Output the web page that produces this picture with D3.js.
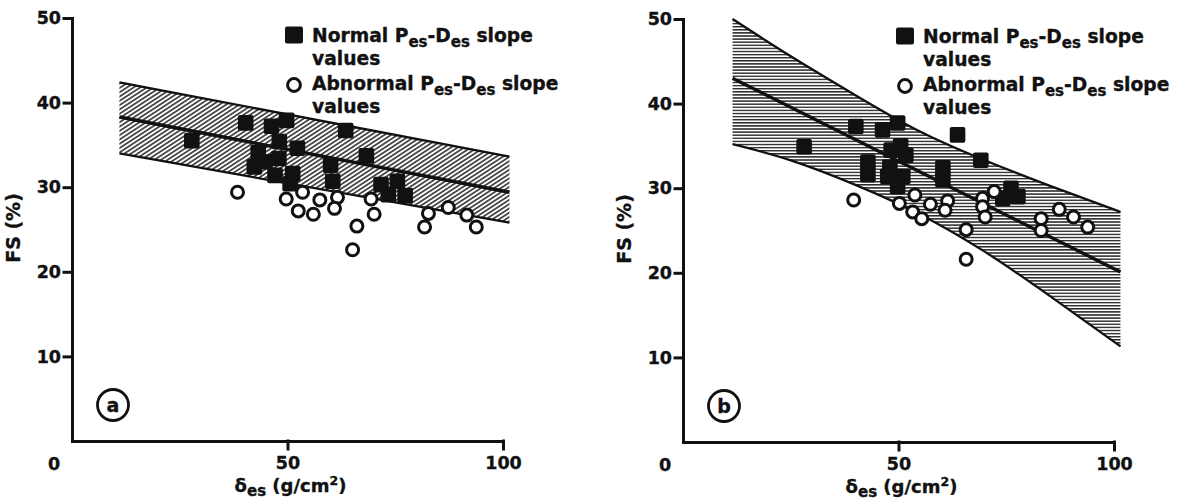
<!DOCTYPE html>
<html>
<head>
<meta charset="utf-8">
<script src="https://cdn.jsdelivr.net/npm/d3@7"></script>
<style>
body { margin: 0; background: #fff; }
svg text { font-family: "DejaVu Sans", sans-serif; font-weight: bold; fill: #111; stroke: #111; stroke-width: 0.35px; }
</style>
</head>
<body>
<svg id="chart" width="1191" height="502"></svg>
<script>
// values (delta_es in g/cm2, FS in %)
var yTicks = [10, 20, 30, 40, 50];
var xTicks = [50, 100];

var normalA = [[27.8,35.5],[40.3,37.6],[46.3,37.2],[49.8,37.9],[63.5,36.7],[48.1,35.4],[52.3,34.6],
  [43.2,34.1],[68.3,33.7],[42.3,32.4],[47.1,31.4],[51.2,31.6],[50.6,30.4],[60.0,32.6],[60.5,30.7],
  [71.7,30.3],[75.5,30.7],[73.4,29.1],[77.3,29.0],[44.8,33.0],[48.0,33.4]];
var abnormalA = [[38.4,29.4],[49.7,28.6],[53.5,29.4],[57.5,28.5],[61.6,28.8],[52.5,27.2],[56.0,26.8],
  [60.9,27.5],[69.4,28.6],[70.1,26.8],[66.1,25.4],[65.1,22.6],[82.7,26.9],[81.8,25.3],[87.3,27.6],
  [91.6,26.7],[93.8,25.3]];

var normalB = [[28.1,34.9],[40.1,37.3],[46.3,36.9],[49.8,37.7],[63.7,36.3],[48.3,34.5],[51.7,33.9],
  [42.9,33.1],[42.9,31.6],[47.5,31.4],[51.0,31.4],[49.8,30.2],[60.3,32.4],[60.3,31.0],[69.1,33.3],
  [76.1,30.0],[77.7,29.0],[74.2,28.8],[48.0,32.5],[50.5,35.0]];
var abnormalB = [[39.6,28.6],[50.2,28.2],[53.8,29.2],[57.4,28.1],[61.4,28.5],[53.3,27.2],[55.4,26.4],
  [60.8,27.4],[69.5,28.8],[72.2,29.6],[69.5,27.8],[70.1,26.6],[65.7,25.1],[65.7,21.6],[83.1,26.4],
  [83.1,25.0],[87.3,27.5],[90.6,26.6],[93.9,25.4]];

// regression line and band edges
var bandXA = [11, 101.5];
var upperA = [42.4, 33.6];
var fitA = [38.3, 29.4];
var lowerA = [34.0, 25.8];

var bandXB = [11.5, 25, 40, 55, 70, 85, 101.5];
var upperB = [50.0, 45.6, 41.0, 36.7, 33.3, 30.3, 27.2];
var lowerB = [35.2, 33.3, 30.4, 26.9, 22.5, 17.3, 11.3];
var fitXB = [11.5, 101.5];
var fitB = [43.0, 20.1];

var svg = d3.select("#chart");
svg.append("rect").attr("width", 1191).attr("height", 502).attr("fill", "#fff");

var defs = svg.append("defs");
var pa = defs.append("pattern").attr("id", "hatchA")
  .attr("patternUnits", "userSpaceOnUse").attr("width", 10).attr("height", 3.6)
  .attr("patternTransform", "rotate(-33)");
pa.append("line").attr("x1", 0).attr("x2", 10).attr("y1", 1.8).attr("y2", 1.8)
  .attr("stroke", "#111").attr("stroke-width", 1.4);
var pb = defs.append("pattern").attr("id", "hatchB")
  .attr("patternUnits", "userSpaceOnUse").attr("width", 10).attr("height", 3.1);
pb.append("line").attr("x1", 0).attr("x2", 10).attr("y1", 1.5).attr("y2", 1.5)
  .attr("stroke", "#111").attr("stroke-width", 1.3);

function drawPanel(o) {
  var g = svg.append("g").attr("transform", "translate(" + o.left + "," + o.top + ")");
  var x = d3.scaleLinear().domain([0, 100]).range([0, 431]);
  var y = d3.scaleLinear().domain([0, 50]).range([423, 0]);

  var band = o.bandX.map(function(v, i) { return {x: v, hi: o.upper[i], lo: o.lower[i]}; });
  var curve = o.bandX.length > 2 ? d3.curveNatural : d3.curveLinear;
  g.append("path").datum(band)
    .attr("d", d3.area().curve(curve).x(function(d) { return x(d.x); })
      .y0(function(d) { return y(d.lo); }).y1(function(d) { return y(d.hi); }))
    .attr("fill", "url(#" + o.hatch + ")");
  ["hi", "lo"].forEach(function(k) {
    g.append("path").datum(band)
      .attr("d", d3.line().curve(curve).x(function(d) { return x(d.x); }).y(function(d) { return y(d[k]); }))
      .attr("fill", "none").attr("stroke", "#111").attr("stroke-width", 2.3);
  });
  var fit = o.fitX.map(function(v, i) { return [v, o.fit[i]]; });
  g.append("path").datum(fit)
    .attr("d", d3.line().x(function(d) { return x(d[0]); }).y(function(d) { return y(d[1]); }))
    .attr("fill", "none").attr("stroke", "#111").attr("stroke-width", 3.4);

  // axes
  var ya = g.append("g").call(d3.axisLeft(y).tickValues(yTicks).tickSize(8).tickSizeOuter(0).tickPadding(3));
  var xa = g.append("g").attr("transform", "translate(0,423)")
    .call(d3.axisBottom(x).tickValues(xTicks).tickSize(8).tickSizeOuter(0).tickPadding(8));
  [ya, xa].forEach(function(a) {
    a.selectAll("path, line").attr("stroke", "#111").attr("stroke-width", 3).attr("stroke-linecap", "square");
    a.selectAll("text").attr("font-size", 17.5).attr("fill", "#111")
      .style("font-family", "DejaVu Sans").style("font-weight", "bold");
  });
  g.append("text").attr("x", x(0) - 18).attr("y", 423 + 16 + 13).attr("text-anchor", "middle")
    .attr("font-size", 17.5).text("0");

  // axis titles
  var xt = g.append("text").attr("x", x(50) + 3).attr("y", 474).attr("text-anchor", "middle").attr("font-size", 18);
  xt.append("tspan").text("δ");
  xt.append("tspan").attr("dy", 4).attr("font-size", 15).text("es");
  xt.append("tspan").attr("dy", -4).text(" (g/cm");
  xt.append("tspan").attr("dy", -7).attr("font-size", 12.5).text("2");
  xt.append("tspan").attr("dy", 7).text(")");
  g.append("text").attr("transform", "translate(-52," + 210 + ") rotate(-90)")
    .attr("text-anchor", "middle").attr("font-size", 19).text("FS (%)");

  // panel letter
  g.append("circle").attr("cx", 41).attr("cy", 387).attr("r", 15.5)
    .attr("fill", "none").attr("stroke", "#111").attr("stroke-width", 2.8);
  g.append("text").attr("x", 41).attr("y", 393.5).attr("text-anchor", "middle")
    .attr("font-size", 19).text(o.letter);

  // points
  g.selectAll("rect.norm").data(o.normal).enter().append("rect").attr("class", "norm")
    .attr("x", function(d) { return x(d[0]) - 7.8; }).attr("y", function(d) { return y(d[1]) - 7.8; })
    .attr("width", 15.6).attr("height", 15.6).attr("rx", 2).attr("fill", "#111");
  g.selectAll("circle.abn").data(o.abnormal).enter().append("circle").attr("class", "abn")
    .attr("cx", function(d) { return x(d[0]); }).attr("cy", function(d) { return y(d[1]); })
    .attr("r", 6).attr("fill", "#fff").attr("stroke", "#111").attr("stroke-width", 3);

  // legend
  var lg = g.append("g").attr("transform", "translate(222,0)");
  lg.append("rect").attr("x", -9).attr("y", 8.5).attr("width", 18).attr("height", 17).attr("rx", 2).attr("fill", "#111");
  lg.append("circle").attr("cx", 0).attr("cy", 67).attr("r", 6.4)
    .attr("fill", "#fff").attr("stroke", "#111").attr("stroke-width", 3);
  [["Normal", 24], ["Abnormal", 72]].forEach(function(r) {
    var t = lg.append("text").attr("x", 18).attr("y", r[1]).attr("font-size", 18.7);
    t.append("tspan").text(r[0] + " P");
    t.append("tspan").attr("dy", 5).attr("font-size", 15).text("es");
    t.append("tspan").attr("dy", -5).text("-D");
    t.append("tspan").attr("dy", 5).attr("font-size", 15).text("es");
    t.append("tspan").attr("dy", -5).text(" slope");
    lg.append("text").attr("x", 18).attr("y", r[1] + 23).attr("font-size", 18.7).text("values");
  });
}

drawPanel({left: 72, top: 18, letter: "a", hatch: "hatchA", bandX: bandXA,
  upper: upperA, lower: lowerA, fitX: bandXA, fit: fitA, normal: normalA, abnormal: abnormalA});
drawPanel({left: 683, top: 19, letter: "b", hatch: "hatchB", bandX: bandXB,
  upper: upperB, lower: lowerB, fitX: fitXB, fit: fitB, normal: normalB, abnormal: abnormalB});
</script>
</body>
</html>
